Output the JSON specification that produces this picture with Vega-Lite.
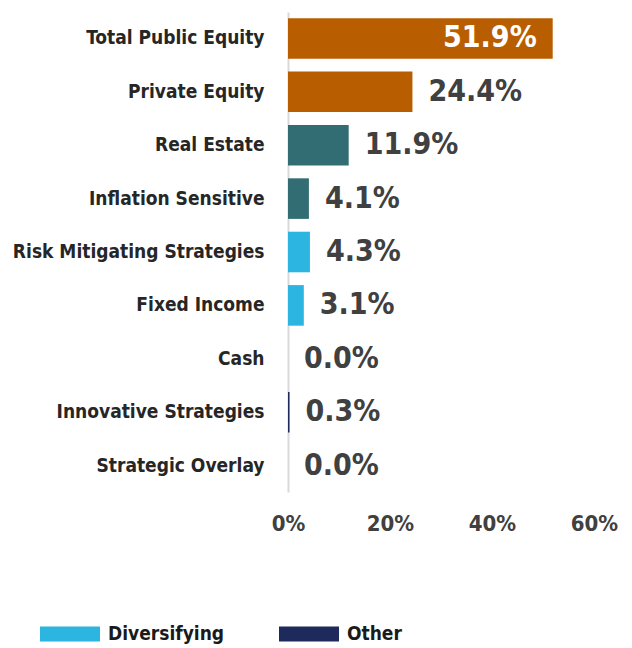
{
  "$schema": "https://vega.github.io/schema/vega-lite/v6.json",
  "width": 306,
  "height": 480,
  "autosize": {"type": "none"},
  "padding": {"left": 288, "top": 12, "right": 38, "bottom": 156},
  "background": "white",
  "config": {
    "view": {"stroke": null},
    "font": "DejaVu Sans Condensed, sans-serif"
  },
  "data": {
    "values": [
      {"category": "Total Public Equity", "value": 0.519, "group": "Growth"},
      {"category": "Private Equity", "value": 0.244, "group": "Growth"},
      {"category": "Real Estate", "value": 0.119, "group": "Real Assets"},
      {"category": "Inflation Sensitive", "value": 0.041, "group": "Real Assets"},
      {"category": "Risk Mitigating Strategies", "value": 0.043, "group": "Diversifying"},
      {"category": "Fixed Income", "value": 0.031, "group": "Diversifying"},
      {"category": "Cash", "value": 0.0, "group": "Diversifying"},
      {"category": "Innovative Strategies", "value": 0.003, "group": "Other"},
      {"category": "Strategic Overlay", "value": 0.0, "group": "Other"}
    ]
  },
  "encoding": {
    "y": {
      "field": "category",
      "type": "nominal",
      "sort": null,
      "scale": {"paddingInner": 0.24, "paddingOuter": 0.115},
      "axis": {
        "title": null,
        "ticks": false,
        "domain": true,
        "domainColor": "#d9d9d9",
        "domainWidth": 2,
        "labelPadding": 24,
        "labelFontSize": 19,
        "labelFontWeight": "bold",
        "labelLimit": 0,
        "labelColor": "#262626",
        "labelFont": "DejaVu Sans Condensed, sans-serif"
      }
    },
    "x": {
      "field": "value",
      "type": "quantitative",
      "scale": {"domain": [0, 0.6]},
      "axis": {
        "title": null,
        "format": ".0%",
        "values": [0, 0.2, 0.4, 0.6],
        "grid": false,
        "domain": false,
        "ticks": false,
        "labelFlush": false,
        "labelOverlap": false,
        "labelPadding": 21,
        "labelFontSize": 22,
        "labelFontWeight": "bold",
        "labelColor": "#404040",
        "labelFont": "DejaVu Sans Condensed, sans-serif"
      }
    }
  },
  "layer": [
    {
      "mark": {"type": "bar"},
      "encoding": {
        "color": {
          "field": "group",
          "type": "nominal",
          "scale": {
            "domain": ["Growth", "Real Assets", "Diversifying", "Other"],
            "range": ["#B85E00", "#336D74", "#2BB5E0", "#1F2A5C"]
          },
          "legend": {
            "values": ["Diversifying", "Other"],
            "title": null,
            "orient": "none",
            "direction": "horizontal",
            "legendX": -248,
            "legendY": 592,
            "symbolType": "M-1,-0.25H1V0.25H-1Z",
            "symbolSize": 3600,
            "symbolStrokeWidth": 0,
            "symbolOpacity": 1,
            "labelOffset": 8,
            "labelFontSize": 19,
            "labelFontWeight": "bold",
            "labelColor": "#1a1a1a",
            "labelFont": "DejaVu Sans Condensed, sans-serif",
            "columnPadding": 54
          }
        }
      }
    },
    {
      "transform": [{"filter": "datum.value < 0.4"}],
      "mark": {"type": "text", "align": "left", "baseline": "middle", "dx": 16, "fontSize": 30, "fontWeight": "bold", "color": "#404040"},
      "encoding": {"text": {"field": "value", "type": "quantitative", "format": ".1%"}}
    },
    {
      "transform": [{"filter": "datum.value >= 0.4"}],
      "mark": {"type": "text", "align": "right", "baseline": "middle", "dx": -16, "fontSize": 30, "fontWeight": "bold", "color": "white"},
      "encoding": {"text": {"field": "value", "type": "quantitative", "format": ".1%"}}
    }
  ]
}
